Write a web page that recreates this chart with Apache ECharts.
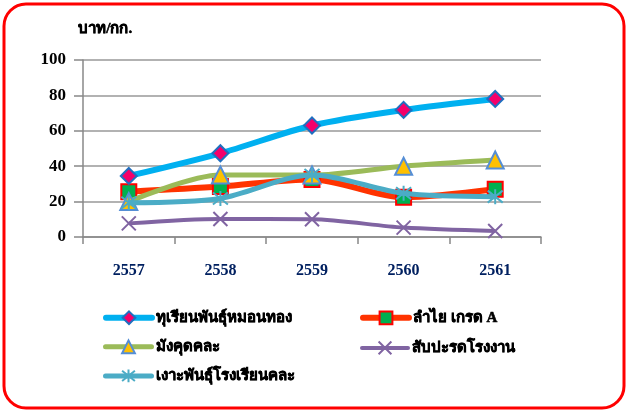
<!DOCTYPE html>
<html><head><meta charset="utf-8">
<script src="https://cdn.jsdelivr.net/npm/echarts@6/dist/echarts.min.js"></script>
<style>html,body{margin:0;padding:0;background:#fff}#c{width:628px;height:414px}</style>
</head><body><div id="c"></div>
<script>
const years = ['2557','2558','2559','2560','2561'];
const yTicks = [0,20,40,60,80,100];
const seriesNames = ['ทุเรียนพันธุ์หมอนทอง','ลำไย เกรด A','มังคุดคละ','สับปะรดโรงงาน','เงาะพันธุ์โรงเรียนคละ'];
const durian = [34.5, 47.3, 63, 71.8, 78];
const longan = [25.6, 28.5, 32.5, 22.5, 27];
const mangosteen = [20, 35, 35, 40, 43.5];
const pineapple = [7.7, 10.2, 10, 5.3, 3.4];
const roseApple = [19.4, 21.8, 35, 24.7, 22.8];

const font = '"Liberation Serif", "Times New Roman", serif';
const chart = echarts.init(document.getElementById('c'), null, {renderer:'canvas'});
const xPath = 'path://M0,0L10,10M10,0L0,10';
const starPath = 'path://M5,0L5,10M1,1L9,9M9,1L1,9';

function legendAt(name, left, top, lw){
  return {data:[name], left:left, top:top, itemWidth:46, itemHeight:16, itemGap:0,
    lineStyle:{width:lw, cap:'round'},
    textStyle:{fontFamily:font, fontWeight:'bold', fontSize:15, color:'#000', padding:[0,0,0,-1],
      textBorderColor:'#000', textBorderWidth:0.6}};
}

chart.setOption({
  animation:false,
  graphic:[{type:'rect', shape:{x:4, y:4, width:620, height:404, r:22}, style:{fill:'none', stroke:'#FF0000', lineWidth:3}},
    {type:'text', left:78, top:21, style:{text:'บาท/กก.', font:'bold 15px '+font, fill:'#000', stroke:'#000', lineWidth:0.6}}],
  grid:{left:83, right:87, top:60, bottom:177},
  xAxis:{type:'category', data:years, boundaryGap:true,
    axisLine:{lineStyle:{color:'#888', width:1.5}},
    axisTick:{show:true, length:7, lineStyle:{color:'#888', width:1.5}},
    axisLabel:{margin:26, fontFamily:font, fontWeight:'bold', fontSize:16, color:'#002060'}},
  yAxis:{type:'value', min:0, max:100, interval:20,
    axisLine:{show:true, lineStyle:{color:'#888', width:1.5}},
    axisTick:{show:true, length:9, lineStyle:{color:'#888', width:1.5}},
    splitLine:{lineStyle:{color:'#999', width:1.5}},
    axisLabel:{margin:17, fontFamily:font, fontWeight:'bold', fontSize:17, color:'#000',
      formatter:v=>yTicks.includes(v)?String(v):''}},
  legend:[legendAt(seriesNames[0],98,305,6), legendAt(seriesNames[1],355,305,6), legendAt(seriesNames[2],98,334,5),
    legendAt(seriesNames[3],355,334,4), legendAt(seriesNames[4],98,362,5)],
  series:[
    {name:seriesNames[0], type:'line', data:durian, smooth:0.3, lineStyle:{color:'#00B0F0', width:6}, z:5,
      symbol:'diamond', symbolSize:16, itemStyle:{color:'#F5006A', borderColor:'#1F6FC0', borderWidth:2}},
    {name:seriesNames[1], type:'line', data:longan, smooth:0.3, lineStyle:{color:'#FF3300', width:6}, z:3,
      symbol:'rect', symbolSize:15, itemStyle:{color:'#00B050', borderColor:'#FF0000', borderWidth:2}},
    {name:seriesNames[2], type:'line', data:mangosteen, smooth:0.3, lineStyle:{color:'#9BBB59', width:5}, z:4,
      symbol:'triangle', symbolSize:17, itemStyle:{color:'#FFC000', borderColor:'#558ED5', borderWidth:2}},
    {name:seriesNames[3], type:'line', data:pineapple, smooth:0.3, lineStyle:{color:'#8064A2', width:4}, z:2,
      symbol:xPath, symbolSize:14, itemStyle:{color:'none', borderColor:'#8064A2', borderWidth:2}},
    {name:seriesNames[4], type:'line', data:roseApple, smooth:0.3, lineStyle:{color:'#4BACC6', width:5}, z:6,
      symbol:starPath, symbolSize:15, itemStyle:{color:'none', borderColor:'#4BACC6', borderWidth:2}}
  ]
});
</script></body></html>
